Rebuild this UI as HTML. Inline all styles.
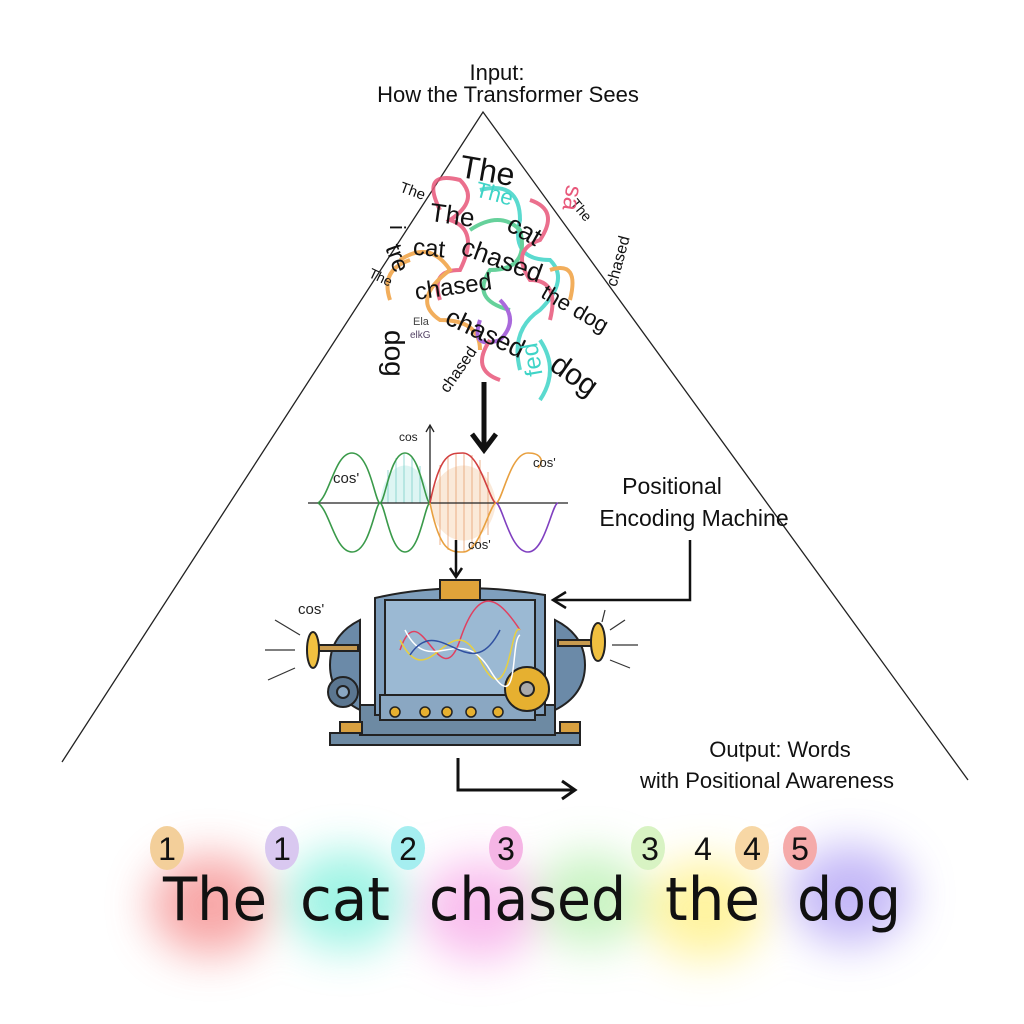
<!DOCTYPE html>
<html><head><meta charset="utf-8"><style>
html,body{margin:0;padding:0;background:#fff;}
svg{display:block;font-family:"Liberation Sans","DejaVu Sans",sans-serif;}
</style></head><body>
<svg width="1024" height="1024" viewBox="0 0 1024 1024" xmlns="http://www.w3.org/2000/svg">
<defs>
<filter id="bl" x="-60%" y="-60%" width="220%" height="220%"><feGaussianBlur stdDeviation="22"/></filter>
</defs>
<rect width="1024" height="1024" fill="#fff"/>
<!-- triangle -->
<path d="M62,762 L483,112 L968,780" fill="none" stroke="#222" stroke-width="1.3"/>
<text x="497" y="80" font-size="22" text-anchor="middle" fill="#111">Input:</text>
<text x="508" y="102" font-size="22" text-anchor="middle" fill="#111">How the Transformer Sees</text>

<!-- colored scribbles -->
<g fill="none" stroke-width="4" opacity="0.85">
<path d="M440,210 q-20,-40 20,-30 q20,20 -10,40 q30,10 10,50 q-30,0 -20,30" stroke="#e8577a"/>
<path d="M480,190 q40,-10 40,30 q-10,40 30,40 q20,20 -10,50 q-30,20 -20,60" stroke="#3fd4c7"/>
<path d="M400,260 q30,-20 50,10 q-40,30 -10,50 q40,0 40,30" stroke="#f0a040"/>
<path d="M470,230 q30,-20 50,0 q10,40 -30,40 q-20,30 20,40" stroke="#4cc98a"/>
<path d="M500,300 q20,20 0,40 q-30,10 -20,-20" stroke="#9b4fd6"/>
<path d="M530,200 q30,10 10,40 q-30,10 -10,40 q30,0 20,40" stroke="#e8577a"/>
<path d="M390,300 q-10,-30 20,-40" stroke="#f0a040"/>
<path d="M540,340 q20,30 0,60" stroke="#3fd4c7"/>
<path d="M490,340 q-20,30 10,40" stroke="#e8577a"/>
<path d="M550,270 q30,-10 20,30" stroke="#f0a040"/>
</g>
<!-- jumbled text -->
<g fill="#111">
<text x="460" y="182" font-size="32" transform="rotate(10 490 170)">The</text>
<text x="400" y="195" font-size="15" transform="rotate(20 410 190)">The</text>
<text x="567" y="210" font-size="14" transform="rotate(50 575 210)">The</text>
<text x="430" y="225" font-size="26" transform="rotate(8 460 215)">The</text>
<text x="505" y="240" font-size="26" transform="rotate(30 525 235)">cat</text>
<text x="413" y="257" font-size="24" transform="rotate(5 440 250)">cat</text>
<text x="460" y="268" font-size="26" transform="rotate(20 500 260)">chased</text>
<text x="415" y="295" font-size="24" transform="rotate(-8 450 290)">chased</text>
<text x="380" y="265" font-size="24" transform="rotate(70 395 260)">tre</text>
<text x="385" y="230" font-size="22" transform="rotate(90 390 230)">i</text>
<text x="367" y="280" font-size="14" transform="rotate(25 375 280)">The</text>
<text x="580" y="300" font-size="16" transform="rotate(-75 590 270)">chased</text>
<text x="532" y="315" font-size="22" transform="rotate(30 570 320)">the dog</text>
<text x="350" y="335" font-size="28" transform="rotate(90 370 350)">dog</text>
<text x="440" y="340" font-size="26" transform="rotate(25 480 340)">chased</text>
<text x="425" y="390" font-size="16" transform="rotate(-55 440 370)">chased</text>
<text x="540" y="385" font-size="30" transform="rotate(35 570 390)">dog</text>
<text x="413" y="325" font-size="11" fill="#444">Ela</text>
<text x="410" y="338" font-size="10" fill="#546">elkG</text>
</g>
<text x="560" y="200" font-size="24" fill="#e8577a" transform="rotate(100 570 195)">sa</text>
<text x="475" y="200" font-size="22" fill="#3fd4c7" transform="rotate(15 490 195)">The</text>
<text x="525" y="360" font-size="24" fill="#3fd4c7" transform="rotate(-100 540 360)">fed</text>
<!-- arrow down -->
<path d="M484,382 L484,447" stroke="#111" stroke-width="5"/>
<path d="M472,434 L484,450 L496,434" fill="none" stroke="#111" stroke-width="5"/>

<!-- sine plot -->
<g stroke-width="1" opacity="0.6">
<path d="M380,503 C385,453 425,453 430,503 Z" fill="#c8f0ec" stroke="none"/>
<path d="M430,503 C437,453 490,453 496,503 C490,553 437,553 430,503 Z" fill="#f8dcc0" stroke="none"/>
</g>
<g stroke="#7ccfca" stroke-width="0.8">
<line x1="388" y1="470" x2="388" y2="503"/><line x1="396" y1="458" x2="396" y2="503"/><line x1="404" y1="454" x2="404" y2="503"/><line x1="412" y1="456" x2="412" y2="503"/><line x1="420" y1="466" x2="420" y2="503"/>
</g>
<g stroke="#e8a070" stroke-width="0.8">
<line x1="440" y1="465" x2="440" y2="545"/><line x1="448" y1="457" x2="448" y2="550"/><line x1="456" y1="454" x2="456" y2="552"/><line x1="464" y1="453" x2="464" y2="552"/><line x1="472" y1="455" x2="472" y2="550"/><line x1="480" y1="460" x2="480" y2="546"/><line x1="488" y1="472" x2="488" y2="535"/>
</g>
<line x1="308" y1="503" x2="568" y2="503" stroke="#222" stroke-width="1.3"/>
<line x1="430" y1="505" x2="430" y2="426" stroke="#222" stroke-width="1.3"/>
<path d="M426,432 L430,425 L434,432" fill="none" stroke="#222" stroke-width="1.3"/>
<path d="M318,503 C330,495 335,453 352,453 C370,453 375,503 380,503 C385,503 390,453 405,453 C420,453 425,503 430,503" fill="none" stroke="#3a9a4a" stroke-width="1.6"/>
<path d="M318,503 C330,511 335,552 352,552 C370,552 375,503 380,503 C385,503 390,552 405,552 C420,552 425,503 430,503" fill="none" stroke="#3a9a4a" stroke-width="1.6"/>
<path d="M430,503 C440,453 450,453 463,453 C480,453 490,503 496,503" fill="none" stroke="#d24040" stroke-width="1.6"/>
<path d="M430,503 C440,552 450,552 463,552 C480,552 490,503 496,503 C502,503 510,453 528,453 C540,453 545,460 538,468" fill="none" stroke="#e8a040" stroke-width="1.6"/>
<path d="M496,503 C502,503 510,552 528,552 C545,552 552,503 558,503" fill="none" stroke="#8040c0" stroke-width="1.6"/>
<text x="399" y="441" font-size="12" fill="#222">cos</text>
<text x="333" y="483" font-size="15" fill="#222">cos'</text>
<text x="533" y="467" font-size="13" fill="#222">cos'</text>
<text x="468" y="549" font-size="13" fill="#222">cos'</text>
<text x="672" y="494" font-size="23" text-anchor="middle" fill="#111">Positional</text>
<text x="694" y="526" font-size="23" text-anchor="middle" fill="#111">Encoding Machine</text>
<!-- arrows to machine -->
<path d="M456,540 L456,575" stroke="#111" stroke-width="2.5"/>
<path d="M450,568 L456,577 L462,568" fill="none" stroke="#111" stroke-width="2.5"/>
<path d="M690,540 L690,600 L555,600" fill="none" stroke="#111" stroke-width="2.5"/>
<path d="M566,592 L553,600 L566,608" fill="none" stroke="#111" stroke-width="2.5"/>

<!-- machine -->
<g stroke="#222" stroke-width="2">
<rect x="330" y="733" width="250" height="12" fill="#6d8aa3"/>
<rect x="360" y="705" width="195" height="30" fill="#6d8aa3"/>
<path d="M360,620 q-30,15 -30,45 q0,30 30,45 z" fill="#6b8aa8"/>
<path d="M555,620 q30,15 30,45 q0,30 -30,45 z" fill="#6b8aa8"/>
<path d="M375,598 q80,-18 170,-3 l0,120 l-170,0 z" fill="#7f9fbd"/>
<rect x="385" y="600" width="150" height="100" fill="#9bb9d3"/>
<rect x="440" y="580" width="40" height="20" fill="#e0a33a"/>
<rect x="380" y="695" width="155" height="25" fill="#8aa7c2"/>
<rect x="318" y="645" width="40" height="6" fill="#c89b50"/>
<ellipse cx="313" cy="650" rx="6" ry="18" fill="#f0c040"/>
<rect x="558" y="640" width="40" height="6" fill="#c89b50"/>
<ellipse cx="598" cy="642" rx="7" ry="19" fill="#f0c040"/>
<circle cx="343" cy="692" r="15" fill="#5b7690"/>
<circle cx="343" cy="692" r="6" fill="#8aa7c2"/>
<circle cx="527" cy="689" r="22" fill="#e6b030"/>
<circle cx="527" cy="689" r="7" fill="#aaa"/>
<rect x="340" y="722" width="22" height="11" fill="#d8a040"/>
<rect x="560" y="722" width="20" height="11" fill="#d8a040"/>
</g>
<g fill="none" stroke-width="1.5">
<path d="M400,650 C420,590 440,700 460,640 S500,600 520,630" stroke="#e04060"/>
<path d="M400,640 C430,700 450,600 480,660 S510,620 520,630" stroke="#e8d040"/>
<path d="M405,630 C430,680 460,620 490,670 S510,640 520,635" stroke="#fff"/>
<path d="M410,655 C440,610 470,690 500,630" stroke="#3050a0"/>
</g>
<g fill="#e6b030" stroke="#222" stroke-width="1.5">
<circle cx="395" cy="712" r="5"/><circle cx="425" cy="712" r="5"/><circle cx="447" cy="712" r="5"/><circle cx="471" cy="712" r="5"/><circle cx="498" cy="712" r="5"/>
</g>
<g stroke="#333" stroke-width="1.2">
<line x1="275" y1="620" x2="300" y2="635"/><line x1="265" y1="650" x2="295" y2="650"/><line x1="268" y1="680" x2="295" y2="668"/>
<line x1="625" y1="620" x2="610" y2="630"/><line x1="638" y1="645" x2="612" y2="645"/><line x1="630" y1="668" x2="610" y2="660"/><line x1="605" y1="610" x2="602" y2="622"/>
</g>
<text x="298" y="614" font-size="15" fill="#222">cos'</text>

<!-- output -->
<text x="780" y="757" font-size="22" text-anchor="middle" fill="#111">Output: Words</text>
<text x="767" y="788" font-size="22" text-anchor="middle" fill="#111">with Positional Awareness</text>
<path d="M458,758 L458,790 L573,790" fill="none" stroke="#111" stroke-width="3"/>
<path d="M562,781 L575,790 L562,799" fill="none" stroke="#111" stroke-width="3"/>

<!-- blobs -->
<g filter="url(#bl)" opacity="0.75">
<ellipse cx="210" cy="905" rx="60" ry="50" fill="#f58a8a"/>
<ellipse cx="345" cy="900" rx="60" ry="50" fill="#7ff0dc"/>
<ellipse cx="480" cy="910" rx="60" ry="50" fill="#f7a8e8"/>
<ellipse cx="590" cy="900" rx="55" ry="48" fill="#b8f0b0"/>
<ellipse cx="705" cy="910" rx="60" ry="50" fill="#fff080"/>
<ellipse cx="850" cy="895" rx="60" ry="50" fill="#b0a0f5"/>
</g>
<g>
<ellipse cx="167" cy="848" rx="17" ry="22" fill="#f3cf9a"/>
<ellipse cx="282" cy="848" rx="17" ry="22" fill="#d9c8f0"/>
<ellipse cx="408" cy="848" rx="17" ry="22" fill="#a5eef0"/>
<ellipse cx="506" cy="848" rx="17" ry="22" fill="#f5b5e5"/>
<ellipse cx="648" cy="848" rx="17" ry="22" fill="#d8f3c3"/>
<ellipse cx="752" cy="848" rx="17" ry="22" fill="#f7d7a5"/>
<ellipse cx="800" cy="848" rx="17" ry="22" fill="#f5aaaa"/>
</g>
<g font-size="32" fill="#111" text-anchor="middle">
<text x="167" y="860">1</text><text x="282" y="860">1</text><text x="408" y="860">2</text><text x="506" y="860">3</text>
<text x="650" y="860">3</text><text x="703" y="860">4</text><text x="752" y="860">4</text><text x="800" y="860">5</text>
</g>
<g font-size="60" fill="#111" font-family="'DejaVu Sans','Liberation Sans',sans-serif">
<text x="163" y="920" textLength="104" lengthAdjust="spacingAndGlyphs">The</text>
<text x="300" y="920" textLength="90" lengthAdjust="spacingAndGlyphs">cat</text>
<text x="429" y="920" textLength="197" lengthAdjust="spacingAndGlyphs">chased</text>
<text x="665" y="920" textLength="95" lengthAdjust="spacingAndGlyphs">the</text>
<text x="797" y="920" textLength="104" lengthAdjust="spacingAndGlyphs">dog</text>
</g>
</svg>
</body></html>
